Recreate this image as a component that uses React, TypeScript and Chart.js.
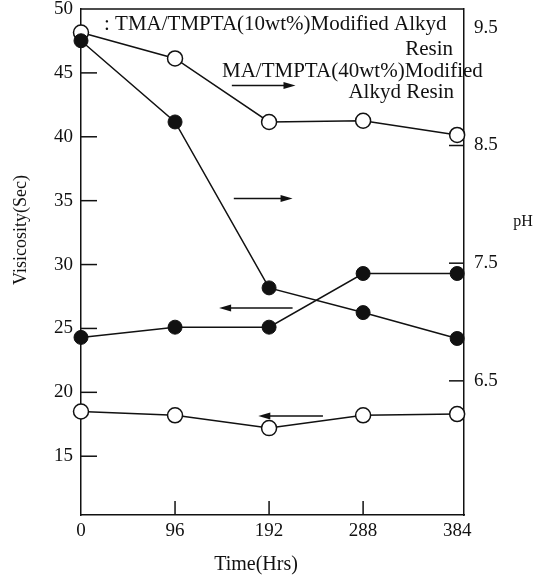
import React, { useEffect, useRef } from 'react';
import { Chart, registerables, Plugin } from 'chart.js';

Chart.register(...registerables);

// time in hours
const hours = [0, 96, 192, 288, 384];

// pH series (right axis)
const phOpen = [9.46, 9.24, 8.7, 8.71, 8.59];
const phFilled = [9.39, 8.7, 7.29, 7.08, 6.86];

// viscosity series (left axis)
const viscFilled = [24.3, 25.1, 25.1, 29.3, 29.3];
const viscOpen = [18.5, 18.2, 17.2, 18.2, 18.3];

const viscTicks = [15, 20, 25, 30, 35, 40, 45, 50];
const phTicks = [6.5, 7.5, 8.5, 9.5];
const viscTickMarks = [15, 20, 25, 30, 35, 40, 45];
const phTickMarks = [6.5, 7.5, 8.5];
const hourTickMarks = [96, 192, 288];

// arrows: which axis the curve belongs to, in data units
const arrows = [
  { axis: 'yPh', from: 154, to: 219, at: 9.01 },
  { axis: 'yPh', from: 156, to: 216, at: 8.05 },
  { axis: 'yVisc', from: 216, to: 141, at: 26.6 },
  { axis: 'yVisc', from: 247, to: 181, at: 18.15 },
];

const SERIF = '"Liberation Serif", "DejaVu Serif", serif';
const INK = '#111';

const pts = (ys: number[]) => hours.map((h, i) => ({ x: h, y: ys[i] }));

const decorations: Plugin<'line'> = {
  id: 'decorations',
  beforeDatasetsDraw(chart) {
    const { ctx, chartArea: a, scales } = chart;
    const seg = (x1: number, y1: number, x2: number, y2: number) => {
      ctx.beginPath();
      ctx.moveTo(x1, y1);
      ctx.lineTo(x2, y2);
      ctx.stroke();
    };
    ctx.save();
    ctx.strokeStyle = INK;
    ctx.lineWidth = 1.5;
    seg(a.left, a.top, a.right, a.top);
    viscTickMarks.forEach(v => {
      const y = scales.yVisc.getPixelForValue(v);
      seg(a.left, y, a.left + 16, y);
    });
    phTickMarks.forEach(v => {
      const y = scales.yPh.getPixelForValue(v);
      seg(a.right - 15, y, a.right, y);
    });
    hourTickMarks.forEach(v => {
      const x = scales.x.getPixelForValue(v);
      seg(x, a.bottom, x, a.bottom - 14);
    });
    ctx.restore();
  },
  afterDatasetsDraw(chart) {
    const { ctx, scales } = chart;
    ctx.save();
    ctx.strokeStyle = INK;
    ctx.fillStyle = INK;
    ctx.lineWidth = 1.5;
    arrows.forEach(ar => {
      const y = scales[ar.axis].getPixelForValue(ar.at);
      const x1 = scales.x.getPixelForValue(ar.from);
      const x2 = scales.x.getPixelForValue(ar.to);
      const dir = Math.sign(x2 - x1);
      ctx.beginPath();
      ctx.moveTo(x1, y);
      ctx.lineTo(x2 - dir * 8, y);
      ctx.stroke();
      ctx.beginPath();
      ctx.moveTo(x2, y);
      ctx.lineTo(x2 - dir * 12, y - 3.5);
      ctx.lineTo(x2 - dir * 12, y + 3.5);
      ctx.closePath();
      ctx.fill();
    });

    // legend
    ctx.font = `21px ${SERIF}`;
    ctx.textBaseline = 'alphabetic';
    ctx.textAlign = 'left';
    ctx.fillText(': TMA/TMPTA(10wt%)Modified Alkyd', 104, 30);
    ctx.fillText('MA/TMPTA(40wt%)Modified', 222, 77);
    ctx.textAlign = 'right';
    ctx.fillText('Resin', 453, 55);
    ctx.fillText('Alkyd Resin', 454, 98);

    // axis titles
    ctx.textAlign = 'center';
    ctx.textBaseline = 'middle';
    ctx.font = `20px ${SERIF}`;
    ctx.fillText('Time(Hrs)', 256, 565);
    ctx.font = `16px ${SERIF}`;
    ctx.fillText('pH', 523, 222);
    ctx.translate(21, 230);
    ctx.rotate(-Math.PI / 2);
    ctx.font = `18px ${SERIF}`;
    ctx.fillText('Visicosity(Sec)', 0, 0);
    ctx.restore();
  },
};

const App: React.FC = () => {
  const canvasRef = useRef<HTMLCanvasElement | null>(null);

  useEffect(() => {
    document.body.style.margin = '0';
    if (!canvasRef.current) return;

    const tickFont = { family: SERIF, size: 19 };

    const chart = new Chart(canvasRef.current, {
      type: 'line',
      data: {
        datasets: [
          {
            label: 'TMA/TMPTA pH',
            data: pts(phFilled),
            yAxisID: 'yPh',
            borderColor: INK,
            borderWidth: 1.5,
            pointRadius: 7,
            pointBackgroundColor: INK,
            pointBorderColor: INK,
            pointBorderWidth: 1,
            clip: false,
          },
          {
            label: 'TMA/TMPTA viscosity',
            data: pts(viscFilled),
            yAxisID: 'yVisc',
            borderColor: INK,
            borderWidth: 1.5,
            pointRadius: 7,
            pointBackgroundColor: INK,
            pointBorderColor: INK,
            pointBorderWidth: 1,
            clip: false,
          },
          {
            label: 'MA/TMPTA pH',
            data: pts(phOpen),
            yAxisID: 'yPh',
            borderColor: INK,
            borderWidth: 1.5,
            pointRadius: 7.5,
            pointBackgroundColor: '#fff',
            pointBorderColor: INK,
            pointBorderWidth: 1.5,
            clip: false,
          },
          {
            label: 'MA/TMPTA viscosity',
            data: pts(viscOpen),
            yAxisID: 'yVisc',
            borderColor: INK,
            borderWidth: 1.5,
            pointRadius: 7.5,
            pointBackgroundColor: '#fff',
            pointBorderColor: INK,
            pointBorderWidth: 1.5,
            clip: false,
          },
        ],
      },
      options: {
        responsive: false,
        animation: false,
        layout: { padding: { top: 9, left: 0, right: 0, bottom: 0 } },
        plugins: {
          legend: { display: false },
          tooltip: { enabled: false },
        },
        scales: {
          x: {
            type: 'linear',
            min: 0,
            max: 391,
            grid: { display: false, drawTicks: false },
            border: { display: true, color: INK, width: 1.5 },
            ticks: { color: INK, font: tickFont, padding: 5, callback: v => String(v) },
            afterBuildTicks: s => {
              s.ticks = hours.map(v => ({ value: v }));
            },
            afterFit: s => {
              s.height = 69;
              s.paddingLeft = 0;
              s.paddingRight = 0;
            },
          },
          yVisc: {
            type: 'linear',
            position: 'left',
            min: 10.4,
            max: 50,
            grid: { display: false, drawTicks: false },
            border: { display: true, color: INK, width: 1.5 },
            ticks: { color: INK, font: tickFont, padding: 8, callback: v => String(v) },
            afterBuildTicks: s => {
              s.ticks = viscTicks.map(v => ({ value: v }));
            },
            afterFit: s => {
              s.width = 81;
              s.paddingTop = 0;
              s.paddingBottom = 0;
            },
          },
          yPh: {
            type: 'linear',
            position: 'right',
            min: 5.36,
            max: 9.66,
            grid: { display: false, drawTicks: false },
            border: { display: true, color: INK, width: 1.5 },
            ticks: { color: INK, font: tickFont, padding: 10, callback: v => Number(v).toFixed(1) },
            afterBuildTicks: s => {
              s.ticks = phTicks.map(v => ({ value: v }));
            },
            afterFit: s => {
              s.width = 74;
              s.paddingTop = 0;
              s.paddingBottom = 0;
            },
          },
        },
      },
      plugins: [decorations],
    });

    return () => {
      chart.destroy();
    };
  }, []);

  return (
    <div style={{ width: 538, height: 584, background: '#fff' }}>
      <canvas ref={canvasRef} width={538} height={584} style={{ display: 'block' }}></canvas>
    </div>
  );
};

export default App;
